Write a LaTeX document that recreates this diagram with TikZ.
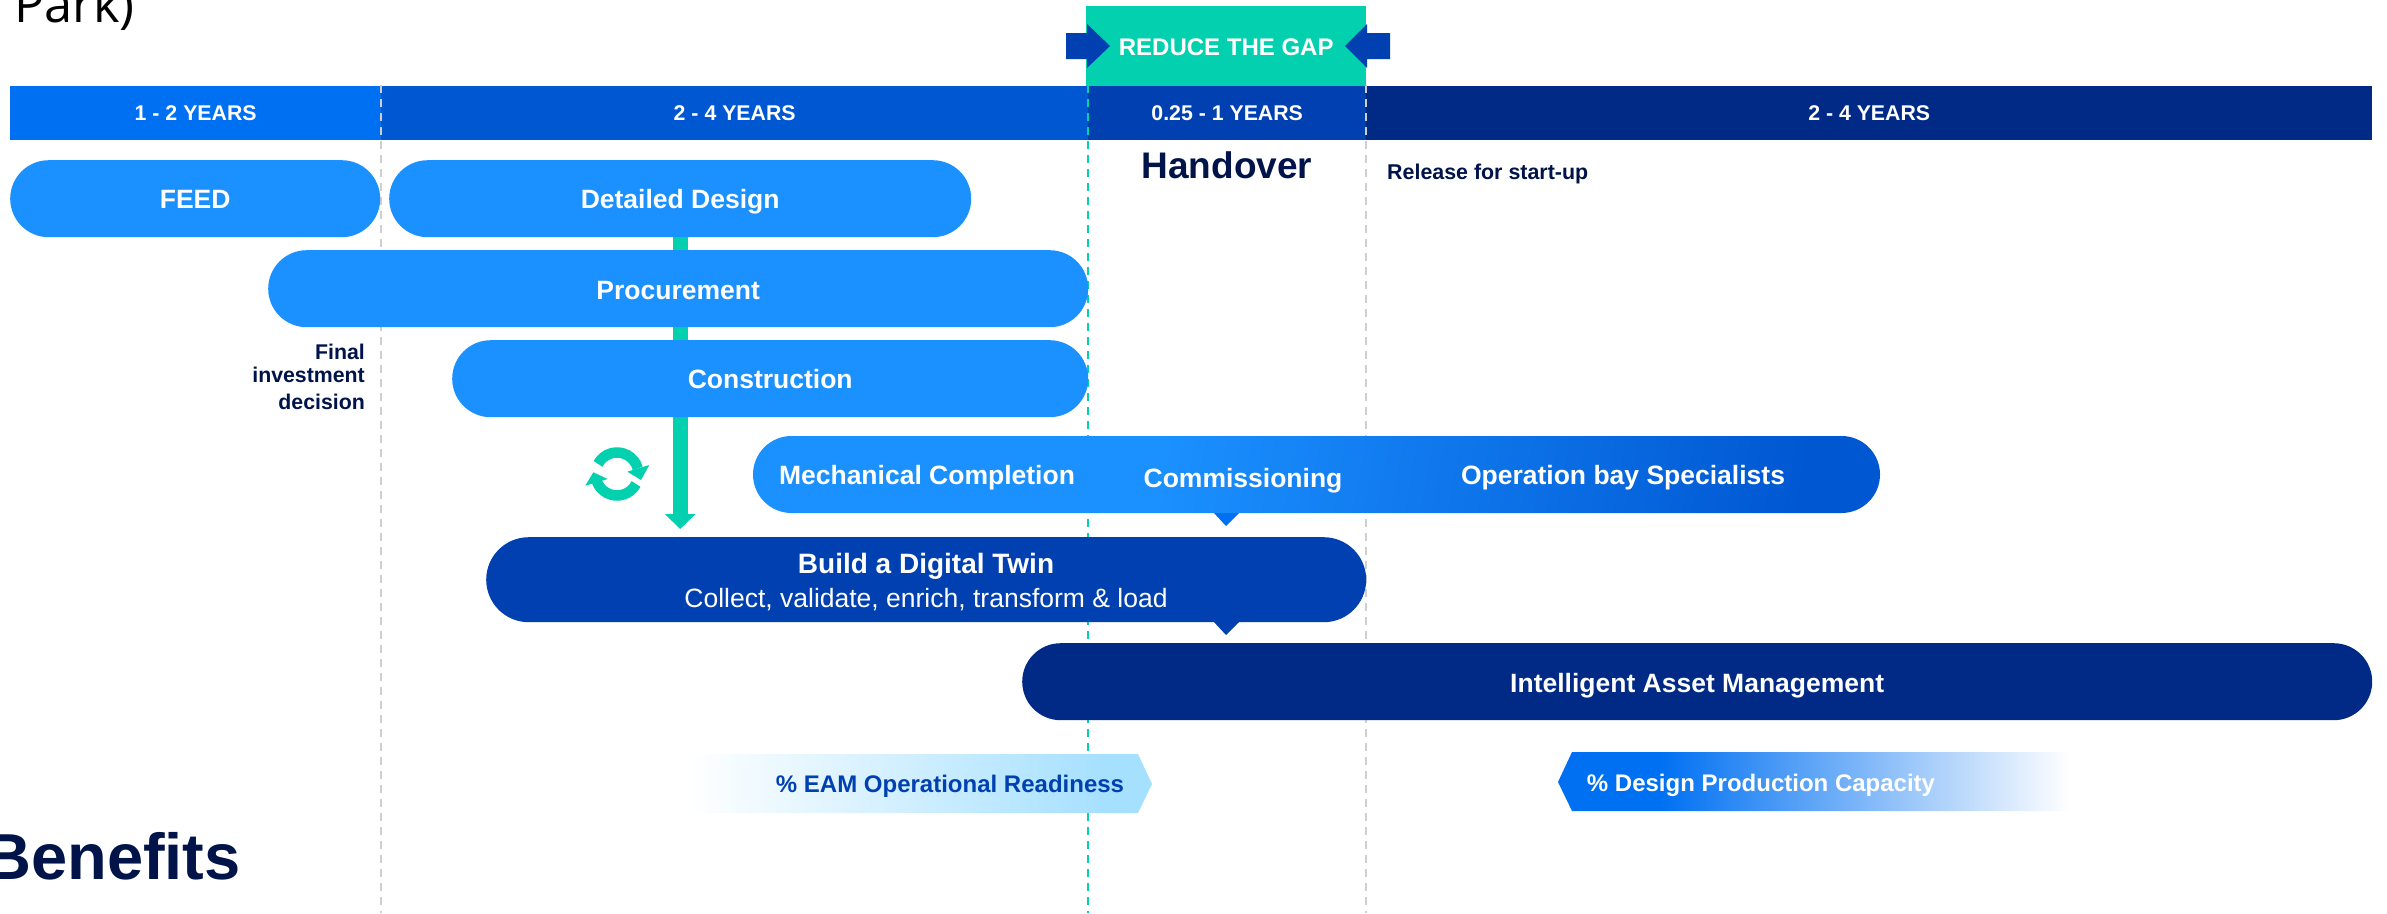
\documentclass[tikz,border=0pt]{standalone}
\usepackage{fontspec}
\setmainfont{Liberation Sans}
\newfontfamily\parkfont{Open Sans}
\usetikzlibrary{arrows.meta,backgrounds}
\definecolor{cA}{HTML}{0070F2}
\definecolor{cB}{HTML}{0057D2}
\definecolor{cC}{HTML}{0040B0}
\definecolor{cD}{HTML}{002A86}
\definecolor{cPill}{HTML}{1B90FF}
\definecolor{cInk}{HTML}{00144A}
\definecolor{cTeal}{HTML}{02D0AE}
\definecolor{cSky}{HTML}{A6E0FF}
\definecolor{cGrey}{HTML}{CFCFCF}
\pgfdeclarehorizontalshading{mechshade}{100bp}{color(0bp)=(cPill); color(25bp)=(cPill); color(42bp)=(cPill); color(75bp)=(cB); color(100bp)=(cB)}
\pgfdeclarehorizontalshading{eamshade}{100bp}{color(0bp)=(white); color(25bp)=(white); color(70bp)=(cSky); color(100bp)=(cSky)}
\pgfdeclarehorizontalshading{capshade}{100bp}{color(0bp)=(cA); color(35bp)=(cA); color(75bp)=(white); color(100bp)=(white)}
\tikzset{
  fs/.style={font=\fontsize{#1}{#1}\selectfont},
  fsb/.style={font=\fontsize{#1}{#1}\selectfont\bfseries},
  barseg/.style={anchor=north west,minimum height=54pt,inner sep=0pt,text=white,fsb=21.3},
  pill/.style={anchor=north west,minimum height=77pt,inner sep=0pt,rounded corners=38.5pt,fill=cPill,text=white,fsb=26.5,text height=19.5pt,text depth=0pt},
  lbl/.style={inner sep=0pt,text=white,fsb=26.5,anchor=base},
  note/.style={inner sep=0pt,text=cInk,fsb=21.3},
  guide/.style={line width=2pt,dash pattern=on 8pt off 6pt},
  flow/.style={cTeal,line width=15pt,-{Triangle[width=30pt,length=15pt]}},
  cyc/.style={cTeal,line width=10.5pt},
}
\begin{document}
\begin{tikzpicture}[x=1pt,y=-1pt]
\useasboundingbox (0,0) rectangle (2387,913);
% title fragments
\node[anchor=base west,inner sep=0pt,font=\fontsize{50.5}{50.5}\selectfont\parkfont,text=black] (park) at (14,22) {Park)};
\node[anchor=base east,inner sep=0pt,text=cInk,fsb=65] (benefits) at (241,879) {Benefits};
% time bar
\node[barseg,fill=cA,minimum width=371pt] (y1) at (10,86) {1 - 2 YEARS};
\node[barseg,fill=cB,minimum width=707pt] (y2) at (381,86) {2 - 4 YEARS};
\node[barseg,fill=cC,minimum width=278pt] (y3) at (1088,86) {0.25 - 1 YEARS};
\node[barseg,fill=cD,minimum width=1006pt] (y4) at (1366,86) {2 - 4 YEARS};
% guides
\coordinate (g1t) at (381,85); \coordinate (g1b) at (381,913);
\coordinate (g2t) at (1088,85); \coordinate (g2b) at (1088,913);
\coordinate (g3t) at (1366,85); \coordinate (g3b) at (1366,913);
\draw[guide,cGrey] (g1t) -- (g1b);
\draw[guide,cTeal] (g2t) -- (g2b);
\draw[guide,cGrey] (g3t) -- (g3b);
% reduce the gap
\node[anchor=north west,fill=cTeal,minimum width=280pt,minimum height=80pt,inner sep=0pt,text=white,fsb=24,text height=18pt,text depth=0pt] (gap) at (1086,6) {REDUCE THE GAP};
\fill[cC] (1066,33) -- (1087,33) -- (1087,24) -- (1110,46) -- (1087,68) -- (1087,59) -- (1066,59) -- cycle;
\fill[cC] (1390,33) -- (1367,33) -- (1367,24) -- (1345,46) -- (1367,68) -- (1367,59) -- (1390,59) -- cycle;
% labels
\node[anchor=base,inner sep=0pt,text=cInk,fsb=37] (handover) at (1227,178) {Handover};
\node[anchor=base west,inner sep=0pt,text=cInk,fsb=21.4] (release) at (1387,179) {Release for start-up};
\node[note,anchor=base east] (fid1) at (365,359) {Final};
\node[note,anchor=base east] (fid2) at (365,382) {investment};
\node[note,anchor=base east] (fid3) at (365,409) {decision};
% phases
\node[pill,minimum width=370pt] (feed) at (10,160) {FEED};
\node[pill,minimum width=582pt] (design) at (389,160) {Detailed Design};
\node[pill,minimum width=820pt,text height=22pt] (proc) at (268,250) {Procurement};
\node[pill,minimum width=636pt] (constr) at (452,340) {Construction};
% mechanical completion band
\fill[cA] (1213,512) -- (1240,512) -- (1226,526) -- cycle;
\shade[shading=mechshade,shading angle=-10,rounded corners=38.5pt] (753,436) rectangle (1880,513);
\node[lbl] (mech) at (927,484) {Mechanical Completion};
\node[lbl] (comm) at (1243,487) {Commissioning};
\node[lbl] (oper) at (1623,484) {Operation bay Specialists};
% digital twin
\fill[cC] (1213,621) -- (1240,621) -- (1226,635) -- cycle;
\node[anchor=north west,minimum width=880pt,minimum height=85pt,inner sep=0pt,rounded corners=42.5pt,fill=cC] (twin) at (486,537) {};
\node[anchor=base,inner sep=0pt,text=white,fsb=28] (twina) at (926,573) {Build a Digital Twin};
\node[anchor=base,inner sep=0pt,text=white,fs=26.5] (twinb) at (926,607) {Collect, validate, enrich, transform \& load};
% asset management
\node[pill,fill=cD,minimum width=1350pt,text height=22pt] (iam) at (1022,643) {Intelligent Asset Management};
% flow arrow
\begin{pgfonlayer}{background}
\draw[flow,shorten >=8pt] (design.south) -- (design.south |- twin.north);
\end{pgfonlayer}
% cycle icon
\draw[cyc] (617,474) ++(208:21.5) arc[start angle=208,end angle=345,radius=21.5];
\fill[cTeal] (649.3,465) -- (627.3,471.7) -- (641,480) -- cycle;
\draw[cyc] (617,474) ++(27.6:21.5) arc[start angle=27.6,end angle=160,radius=21.5];
\fill[cTeal] (585.3,485.7) -- (607.7,479) -- (593.3,472.3) -- cycle;
% benefit arrows
\shade[shading=eamshade] (687,754) -- (1138,754) -- (1152,784) -- (1138,813) -- (687,813) -- cycle;
\node[anchor=base,inner sep=0pt,text=cC,fsb=24] (eam) at (950,792) {\% EAM Operational Readiness};
\shade[shading=capshade] (1558,782) -- (1572,752) -- (2070,752) -- (2070,811) -- (1572,811) -- cycle;
\node[anchor=base,inner sep=0pt,text=white,fsb=24] (cap) at (1761,791) {\% Design Production Capacity};
\end{tikzpicture}
\end{document}
